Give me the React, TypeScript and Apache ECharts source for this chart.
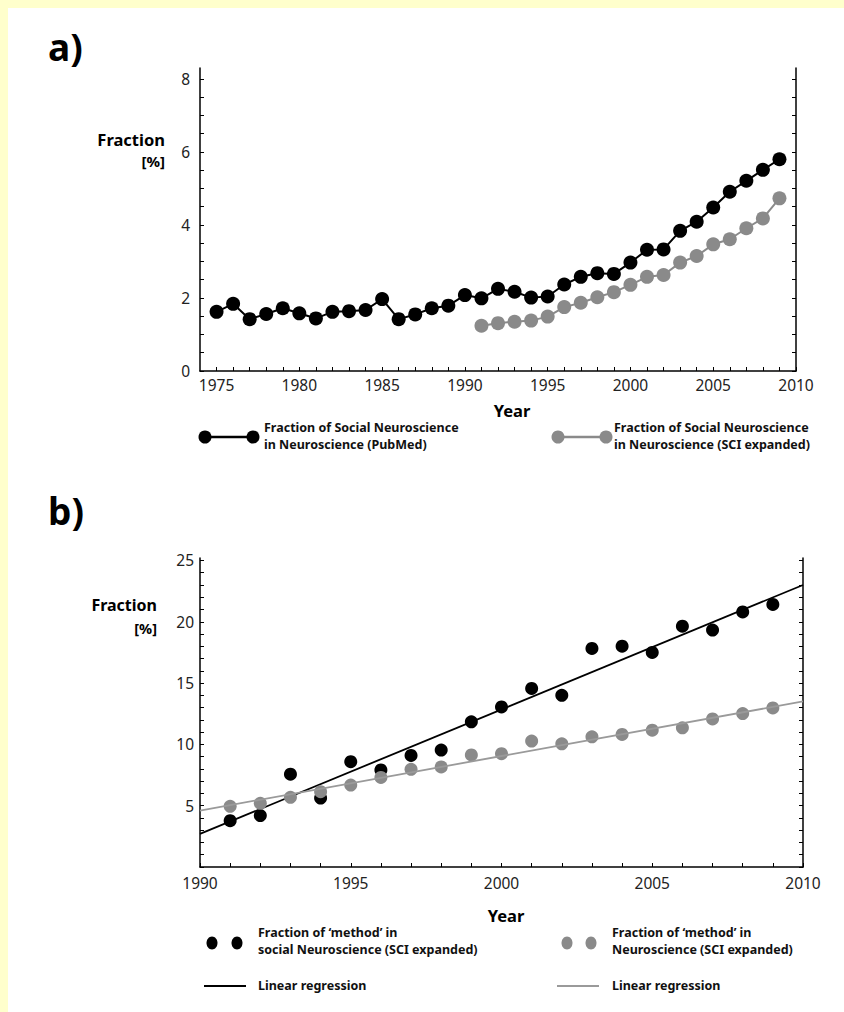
import React, { useEffect, useRef } from "react";
import * as echarts from "echarts";

// ---------- Data: panel a ----------
const pubmedYears = [1975, 1976, 1977, 1978, 1979, 1980, 1981, 1982, 1983, 1984, 1985, 1986, 1987, 1988, 1989, 1990, 1991, 1992, 1993, 1994, 1995, 1996, 1997, 1998, 1999, 2000, 2001, 2002, 2003, 2004, 2005, 2006, 2007, 2008, 2009];
const pubmedFraction = [1.62, 1.84, 1.42, 1.56, 1.72, 1.58, 1.44, 1.62, 1.64, 1.67, 1.97, 1.42, 1.55, 1.72, 1.79, 2.08, 1.99, 2.25, 2.17, 2.01, 2.04, 2.37, 2.58, 2.68, 2.66, 2.97, 3.32, 3.33, 3.84, 4.09, 4.48, 4.91, 5.21, 5.51, 5.8];
const sciYears = [1991, 1992, 1993, 1994, 1995, 1996, 1997, 1998, 1999, 2000, 2001, 2002, 2003, 2004, 2005, 2006, 2007, 2008, 2009];
const sciFraction = [1.24, 1.31, 1.35, 1.38, 1.49, 1.75, 1.87, 2.02, 2.16, 2.36, 2.58, 2.63, 2.97, 3.15, 3.47, 3.61, 3.91, 4.18, 4.73];
const xLabelsA = [1975, 1980, 1985, 1990, 1995, 2000, 2005, 2010];
const yLabelsA = [0, 2, 4, 6, 8];

// ---------- Data: panel b ----------
const methodYears = [1991, 1992, 1993, 1994, 1995, 1996, 1997, 1998, 1999, 2000, 2001, 2002, 2003, 2004, 2005, 2006, 2007, 2008, 2009];
const methodSocial = [3.78, 4.19, 7.57, 5.62, 8.59, 7.92, 9.1, 9.54, 11.84, 13.05, 14.56, 14.0, 17.82, 18.01, 17.5, 19.64, 19.32, 20.8, 21.41];
const methodNeuro = [4.95, 5.19, 5.68, 6.14, 6.68, 7.3, 7.97, 8.16, 9.14, 9.24, 10.27, 10.05, 10.62, 10.81, 11.16, 11.35, 12.08, 12.51, 12.97];
const regYears = [1990, 2010];
const regSocial = [2.7, 23.0];
const regNeuro = [4.6, 13.5];
const xLabelsB = [1990, 1995, 2000, 2005, 2010];
const yLabelsB = [5, 10, 15, 20, 25];

const FONT = "'Noto Sans', sans-serif";
const BLACK = "#000000";
const GRAY = "#8a8a8a";
const GRAYLINE = "#9a9a9a";

function range(a: number, b: number, step: number) {
  const out: number[] = [];
  for (let v = a; v <= b + 1e-9; v += step) out.push(Math.round(v * 100) / 100);
  return out;
}

function pairs(xs: number[], ys: number[]) {
  return xs.map((x, i) => [x, ys[i]]);
}

const plain = (v: number) => String(v);

function xAxisCfg(gridIndex: number, min: number, max: number, ticks: number[], labels: number[], margin: number) {
  return {
    type: "value",
    gridIndex,
    min,
    max,
    axisLine: { show: true, onZero: false, lineStyle: { color: "#000", width: 1.5 } },
    axisTick: { show: true, inside: true, length: 4, customValues: ticks, lineStyle: { color: "#000", width: 1 } },
    axisLabel: { show: true, customValues: labels, formatter: plain, color: "#222", fontSize: 15.5, fontFamily: FONT, margin },
    splitLine: { show: false },
  };
}

function yAxisCfg(gridIndex: number, min: number, max: number, ticks: number[], labels: number[], position: string, margin: number) {
  return {
    type: "value",
    gridIndex,
    min,
    max,
    position,
    axisLine: { show: true, onZero: false, lineStyle: { color: "#000", width: 1.5 } },
    axisTick: { show: true, inside: true, length: 4, customValues: ticks, lineStyle: { color: "#000", width: 1 } },
    axisLabel: position === "left"
      ? { show: true, customValues: labels, formatter: plain, color: "#222", fontSize: 15.5, fontFamily: FONT, margin }
      : { show: false },
    splitLine: { show: false },
  };
}

function txt(x: number, y: number, text: string, size: number, weight: string, align = "left", color = "#111") {
  return {
    type: "text",
    x,
    y,
    style: { text, fontSize: size, fontWeight: weight, fontFamily: FONT, fill: color, align, verticalAlign: "middle" },
  };
}

export default function App() {
  const ref = useRef<HTMLDivElement>(null);
  useEffect(() => {
    const chart = echarts.init(ref.current!, null, { renderer: "svg" });
    const option = {
      animation: false,
      backgroundColor: "#ffffff",
      grid: [
        { left: 192, top: 60, width: 596, height: 303 },
        { left: 192, top: 550, width: 603, height: 309 },
      ],
      xAxis: [
        xAxisCfg(0, 1974, 2010, range(1975, 2010, 1), xLabelsA, 6),
        xAxisCfg(1, 1990, 2010, range(1990, 2010, 1), xLabelsB, 8),
      ],
      yAxis: [
        yAxisCfg(0, 0, 8.3, range(0, 8, 0.5), yLabelsA, "left", 10),
        yAxisCfg(0, 0, 8.3, range(0, 8, 0.5), [], "right", 10),
        yAxisCfg(1, 0, 25.2, range(0, 25, 1), yLabelsB, "left", 6),
        yAxisCfg(1, 0, 25.2, range(0, 25, 1), [], "right", 6),
      ],
      series: [
        {
          name: "PubMed",
          type: "line",
          xAxisIndex: 0,
          yAxisIndex: 0,
          data: pairs(pubmedYears, pubmedFraction),
          symbol: "circle",
          symbolSize: 14,
          itemStyle: { color: BLACK },
          lineStyle: { color: BLACK, width: 2 },
          z: 3,
        },
        {
          name: "SCI expanded",
          type: "line",
          xAxisIndex: 0,
          yAxisIndex: 0,
          data: pairs(sciYears, sciFraction),
          symbol: "circle",
          symbolSize: 14,
          itemStyle: { color: GRAY },
          lineStyle: { color: GRAY, width: 2 },
          z: 2,
        },
        {
          name: "social method",
          type: "scatter",
          xAxisIndex: 1,
          yAxisIndex: 2,
          data: pairs(methodYears, methodSocial),
          symbol: "circle",
          symbolSize: 13,
          itemStyle: { color: BLACK, opacity: 1 },
          z: 2,
        },
        {
          name: "social regression",
          type: "line",
          xAxisIndex: 1,
          yAxisIndex: 2,
          data: pairs(regYears, regSocial),
          showSymbol: false,
          symbol: "none",
          lineStyle: { color: BLACK, width: 1.8 },
          z: 3,
        },
        {
          name: "neuro method",
          type: "scatter",
          xAxisIndex: 1,
          yAxisIndex: 2,
          data: pairs(methodYears, methodNeuro),
          symbol: "circle",
          symbolSize: 13,
          itemStyle: { color: GRAY, opacity: 1 },
          z: 4,
        },
        {
          name: "neuro regression",
          type: "line",
          xAxisIndex: 1,
          yAxisIndex: 2,
          data: pairs(regYears, regNeuro),
          showSymbol: false,
          symbol: "none",
          lineStyle: { color: GRAYLINE, width: 1.8 },
          z: 5,
        },
      ],
      graphic: [
        // panel labels
        txt(40, 38, "a)", 37, "bold", "left", "#000"),
        txt(40, 502, "b)", 37, "bold", "left", "#000"),
        // y titles
        txt(157, 131, "Fraction", 16.5, "bold", "right", "#000"),
        txt(157, 153, "[%]", 15, "bold", "right", "#000"),
        txt(149, 597, "Fraction", 16, "bold", "right", "#000"),
        txt(149, 620, "[%]", 14.5, "bold", "right", "#000"),
        // x titles
        txt(504, 402, "Year", 16.5, "bold", "center", "#000"),
        txt(498, 907, "Year", 16.5, "bold", "center", "#000"),
        // legend a
        { type: "line", shape: { x1: 197, y1: 429, x2: 245, y2: 429 }, style: { stroke: BLACK, lineWidth: 2.5 } },
        { type: "circle", shape: { cx: 197, cy: 429, r: 6.5 }, style: { fill: BLACK } },
        { type: "circle", shape: { cx: 245, cy: 429, r: 6.5 }, style: { fill: BLACK } },
        txt(256, 419, "Fraction of Social Neuroscience", 12.5, "bold"),
        txt(256, 436, "in Neuroscience (PubMed)", 12.5, "bold"),
        { type: "line", shape: { x1: 550, y1: 429, x2: 598, y2: 429 }, style: { stroke: GRAY, lineWidth: 2.5 } },
        { type: "circle", shape: { cx: 550, cy: 429, r: 6.5 }, style: { fill: GRAY } },
        { type: "circle", shape: { cx: 598, cy: 429, r: 6.5 }, style: { fill: GRAY } },
        txt(606, 419, "Fraction of Social Neuroscience", 12.5, "bold"),
        txt(606, 436, "in Neuroscience (SCI expanded)", 12.5, "bold"),
        // legend b
        { type: "ellipse", shape: { cx: 204, cy: 935, rx: 5.5, ry: 6.5 }, style: { fill: BLACK } },
        { type: "ellipse", shape: { cx: 229, cy: 935, rx: 5.5, ry: 6.5 }, style: { fill: BLACK } },
        txt(250, 924, "Fraction of \u2018method\u2019 in", 12.5, "bold"),
        txt(250, 941, "social Neuroscience (SCI expanded)", 12.5, "bold"),
        { type: "ellipse", shape: { cx: 559, cy: 935, rx: 5.5, ry: 6.5 }, style: { fill: GRAY } },
        { type: "ellipse", shape: { cx: 583, cy: 935, rx: 5.5, ry: 6.5 }, style: { fill: GRAY } },
        txt(604, 924, "Fraction of \u2018method\u2019 in", 12.5, "bold"),
        txt(604, 941, "Neuroscience (SCI expanded)", 12.5, "bold"),
        { type: "line", shape: { x1: 196, y1: 978, x2: 238, y2: 978 }, style: { stroke: BLACK, lineWidth: 2 } },
        txt(250, 977, "Linear regression", 12.5, "bold"),
        { type: "line", shape: { x1: 549, y1: 978, x2: 591, y2: 978 }, style: { stroke: GRAYLINE, lineWidth: 2 } },
        txt(604, 977, "Linear regression", 12.5, "bold"),
      ],
    };
    chart.setOption(option as any);
    return () => chart.dispose();
  }, []);
  return (
    <div style={{ position: "fixed", left: 0, top: 0, width: 844, height: 1012, background: "#ffffcc" }}>
      <div ref={ref} style={{ position: "absolute", left: 8, top: 8, width: 836, height: 1004, background: "#ffffff" }} />
    </div>
  );
}
